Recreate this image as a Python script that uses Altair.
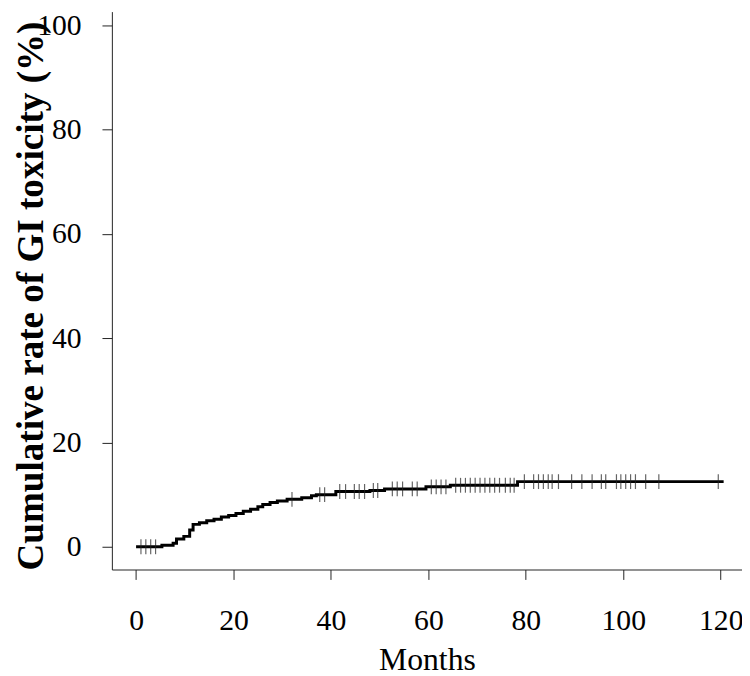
import altair as alt
import pandas as pd

# Step curve (cumulative incidence, %)
step_times = [0, 5.3, 7.6, 8.3, 9.8, 11.0, 11.7, 13.0, 14.5, 16.0, 17.5, 19.0, 20.5,
              22.0, 23.5, 25.0, 26.0, 27.5, 29.0, 31.0, 34.0, 36.0, 37.0, 41.0, 48.0,
              51.0, 59.5, 64.5, 78.3, 120.6]
step_values = [0, 0.3, 0.7, 1.5, 2.0, 3.2, 4.3, 4.6, 5.0, 5.3, 5.7, 6.0, 6.4,
               6.8, 7.2, 7.7, 8.1, 8.5, 8.8, 9.1, 9.4, 9.8, 10.0, 10.6, 10.8,
               11.1, 11.5, 11.8, 12.5, 12.5]

# Censoring times (months)
censor_times = [1, 2, 3, 4, 32.0, 37.7, 38.7, 41.8, 43.0, 44.8, 45.8, 46.9, 48.7, 49.6,
                52.6, 53.6, 54.7, 56.7, 57.7, 60.6, 61.6, 62.6, 63.6, 65.6, 66.6, 67.6,
                68.6, 69.6, 70.6, 71.6, 72.6, 73.6, 74.6, 75.8, 76.8, 77.6, 79.7, 81.6,
                82.6, 83.6, 84.6, 85.4, 86.7, 89.4, 91.5, 93.6, 95.5, 96.4, 98.6, 99.5,
                100.5, 101.5, 102.5, 104.6, 107.3, 119.5]

x_ticks = [0, 20, 40, 60, 80, 100, 120]
y_ticks = [0, 20, 40, 60, 80, 100]


def level_at(t):
    v = step_values[0]
    for st, sv in zip(step_times, step_values):
        if st <= t:
            v = sv
    return v


curve = pd.DataFrame({"t": step_times, "v": step_values})
cens = pd.DataFrame({"t": censor_times, "v": [level_at(t) for t in censor_times]})

FONT = "Liberation Serif"

xscale = alt.Scale(domain=[-4.97, 124.37], nice=False, zero=False)
yscale = alt.Scale(domain=[-4.36, 102.66], nice=False, zero=False)

xaxis = alt.Axis(values=x_ticks, title="Months", grid=False, tickSize=10,
                 labelFont=FONT, labelFontSize=30, labelPadding=27, labelColor="black",
                 labelFlush=False, labelOverlap=False,
                 domainColor="#222", tickColor="#222", domainWidth=1, tickWidth=1,
                 titleFont=FONT, titleFontSize=32, titleFontWeight="normal",
                 titleColor="black", titleBaseline="alphabetic", titleY=101)
yaxis = alt.Axis(values=y_ticks, title="Cumulative rate of GI toxicity (%)", grid=False,
                 tickSize=10, labelFont=FONT, labelFontSize=30, labelPadding=21,
                 labelColor="black", labelFlush=False, labelOverlap=False,
                 domainColor="#222", tickColor="#222", domainWidth=1, tickWidth=1,
                 titleFont=FONT, titleFontSize=37.5, titleFontWeight="bold",
                 titleColor="black", titleBaseline="alphabetic", titleAngle=270,
                 titleAlign="center", titleX=-70, titleY=287)

line = alt.Chart(curve).mark_line(interpolate="step-after", color="black",
                                  strokeWidth=3).encode(
    x=alt.X("t:Q", scale=xscale, axis=xaxis),
    y=alt.Y("v:Q", scale=yscale, axis=yaxis),
)

ticks = alt.Chart(cens).mark_tick(orient="vertical", size=15, thickness=1.2,
                                  color="#222").encode(
    x=alt.X("t:Q", scale=xscale),
    y=alt.Y("v:Q", scale=yscale),
)

chart = alt.layer(line, ticks).properties(
    width=637, height=564,
    autosize=alt.AutoSizeParams(type="none"),
    padding={"left": 105, "top": 0, "right": 0, "bottom": 104},
).configure_view(stroke=None)

chart.save("out.html", embed_options={"renderer": "svg", "actions": False})
